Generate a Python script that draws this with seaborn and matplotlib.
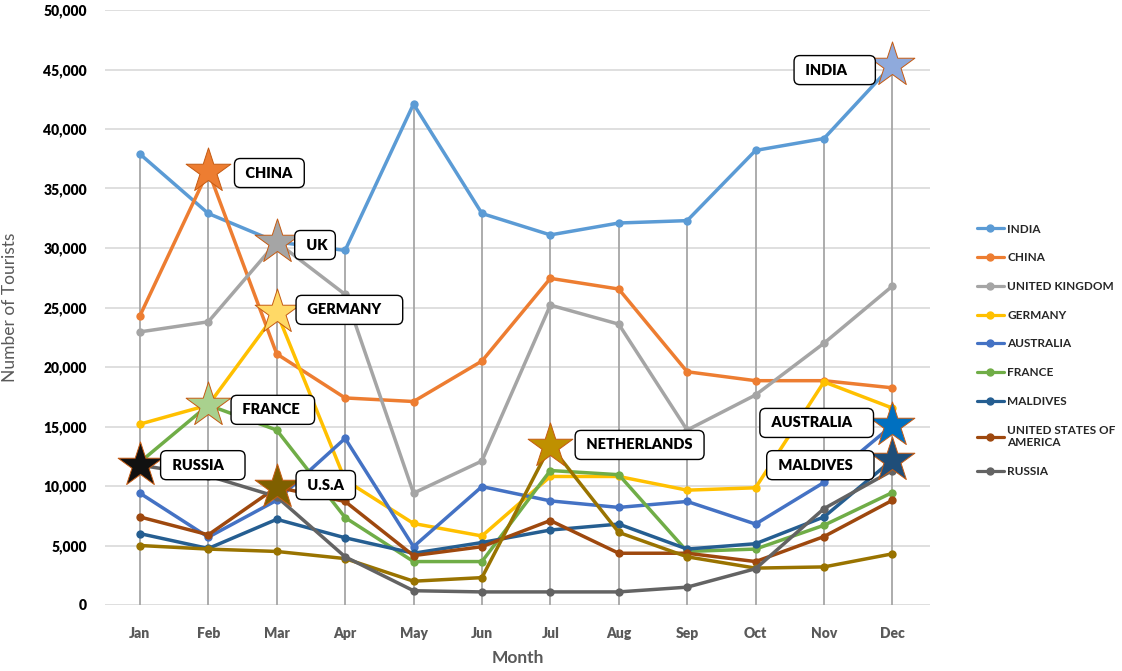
import pandas as pd
import matplotlib.pyplot as plt
import seaborn as sns
from matplotlib.lines import Line2D

months = ['Jan', 'Feb', 'Mar', 'Apr', 'May', 'Jun', 'Jul', 'Aug', 'Sep', 'Oct', 'Nov', 'Dec']

india = [37900, 32900, 30500, 29800, 42100, 32900, 31100, 32100, 32300, 38200, 39200, 45400]
china = [24300, 36500, 21100, 17400, 17100, 20500, 27450, 26550, 19600, 18850, 18850, 18250]
uk = [22950, 23800, 30500, 26100, 9400, 12100, 25200, 23600, 14700, 17650, 22000, 26800]
germany = [15200, 16800, 24600, 10500, 6850, 5800, 10800, 10800, 9650, 9850, 18750, 16550]
australia = [9400, 5700, 8800, 14000, 4900, 9950, 8750, 8200, 8700, 6800, 10300, 15100]
france = [12000, 16800, 14700, 7350, 3650, 3650, 11300, 10950, 4500, 4700, 6700, 9450]
maldives = [6000, 4750, 7200, 5650, 4350, 5250, 6300, 6800, 4700, 5150, 7400, 12200]
usa = [7400, 5900, 9900, 8700, 4150, 4900, 7100, 4350, 4350, 3650, 5750, 8800]
netherlands = [5000, 4700, 4500, 3900, 2000, 2300, 13400, 6100, 4050, 3100, 3200, 4300]
russia = [11750, 10850, 9100, 4050, 1200, 1100, 1100, 1100, 1500, 3050, 8100, 11300]

series = {
    'INDIA': india, 'CHINA': china, 'UNITED KINGDOM': uk, 'GERMANY': germany,
    'AUSTRALIA': australia, 'FRANCE': france, 'MALDIVES': maldives,
    'UNITED STATES OF\nAMERICA': usa, 'NETHERLANDS': netherlands, 'RUSSIA': russia,
}
colors = {
    'INDIA': '#5B9BD5', 'CHINA': '#ED7D31', 'UNITED KINGDOM': '#A5A5A5', 'GERMANY': '#FFC000',
    'AUSTRALIA': '#4472C4', 'FRANCE': '#70AD47', 'MALDIVES': '#255E91',
    'UNITED STATES OF\nAMERICA': '#9E480E', 'NETHERLANDS': '#997300', 'RUSSIA': '#636363',
}
legend_order = ['INDIA', 'CHINA', 'UNITED KINGDOM', 'GERMANY', 'AUSTRALIA', 'FRANCE',
                'MALDIVES', 'UNITED STATES OF\nAMERICA', 'RUSSIA']

# highlighted points: (series, month, star colour, label)
stars = [
    ('INDIA', 'Dec', '#8FAADC', 'INDIA'),
    ('CHINA', 'Feb', '#ED7D31', 'CHINA'),
    ('UNITED KINGDOM', 'Mar', '#A5A5A5', 'UK'),
    ('GERMANY', 'Mar', '#FFD966', 'GERMANY'),
    ('FRANCE', 'Feb', '#A9D18E', 'FRANCE'),
    ('RUSSIA', 'Jan', '#111111', 'RUSSIA'),
    ('UNITED STATES OF\nAMERICA', 'Mar', '#7F6000', 'U.S.A'),
    ('NETHERLANDS', 'Jul', '#BF9000', 'NETHERLANDS'),
    ('AUSTRALIA', 'Dec', '#0070C0', 'AUSTRALIA'),
    ('MALDIVES', 'Dec', '#1F4E79', 'MALDIVES'),
]
# label box anchors (x in month index, y in data units, trailing spaces)
label_pos = {
    'INDIA': (9.68, 44950, 6), 'CHINA': (1.50, 36300, 1), 'UK': (2.38, 30250, 0),
    'GERMANY': (2.40, 24800, 4), 'FRANCE': (1.45, 16400, 2), 'RUSSIA': (0.42, 11750, 4),
    'U.S.A': (2.40, 10080, 1), 'NETHERLANDS': (6.48, 13450, 1),
    'AUSTRALIA': (9.18, 15300, 4), 'MALDIVES': (9.28, 11750, 4),
}

rows = []
for name, vals in series.items():
    for i, v in enumerate(vals):
        rows.append({'country': name, 'month': i, 'tourists': v})
df = pd.DataFrame(rows)

sns.set_style('white')
plt.rcParams['font.family'] = ['Lato', 'DejaVu Sans']

fig = plt.figure(figsize=(11.22, 6.71), dpi=100)
ax = fig.add_axes([105 / 1122, 66 / 671, 825 / 1122, 595 / 671])

ax.set_ylim(0, 50000)
ax.set_xlim(-0.51, 11.55)
ax.set_yticks(range(0, 50001, 5000))
ax.yaxis.grid(True, color='#D9D9D9', lw=1.2)
ax.set_axisbelow(True)

# drop lines
tops = df.groupby('month')['tourists'].max()
ax.vlines(tops.index, 0, tops.values, color='#A6A6A6', lw=1.3, zorder=1)

sns.lineplot(data=df, x='month', y='tourists', hue='country', palette=colors,
             marker='o', markersize=6, markeredgewidth=0, lw=2.5, legend=False,
             ax=ax, zorder=3)

for name, m, c, lab in stars:
    i = months.index(m)
    ax.scatter(i, series[name][i], marker='*', s=1150, color=c, edgecolor='#C55A11',
               linewidth=0.7, zorder=5)
    tx, ty, extra = label_pos[lab]
    ax.text(tx, ty, ' ' + lab + ' ' * extra, ha='left', va='center', fontsize=10.5,
            fontweight='heavy', color='black', zorder=6,
            bbox=dict(boxstyle='round,pad=0.55,rounding_size=0.4', fc='white', ec='black', lw=1))

ax.set_xticks(range(12))
ax.set_xticklabels(months, fontsize=10, fontweight='heavy', color='#595959')
ax.set_yticklabels([f'{v:,}' for v in range(0, 50001, 5000)], fontsize=10,
                   fontweight='heavy', color='black')
ax.tick_params(axis='both', length=0)
ax.tick_params(axis='y', pad=13)
ax.tick_params(axis='x', pad=16)
sns.despine(ax=ax, left=True, bottom=True)
ax.set_xlabel('Month', fontsize=12.5, fontweight='bold', color='#595959', labelpad=7)
ax.set_ylabel('Number of Tourists', fontsize=12.5, color='#595959', labelpad=18)

handles = [Line2D([0], [0], color=colors[n], lw=2.3, marker='o', markersize=5) for n in legend_order]
leg = fig.legend(handles, legend_order, loc='upper left', bbox_to_anchor=(966 / 1122, 1 - 213 / 671),
                 frameon=False, handlelength=2.3, labelspacing=1.5, handletextpad=0.3,
                 prop={'size': 8.5, 'weight': 'bold'})

fig.savefig('out.png', dpi=100)
